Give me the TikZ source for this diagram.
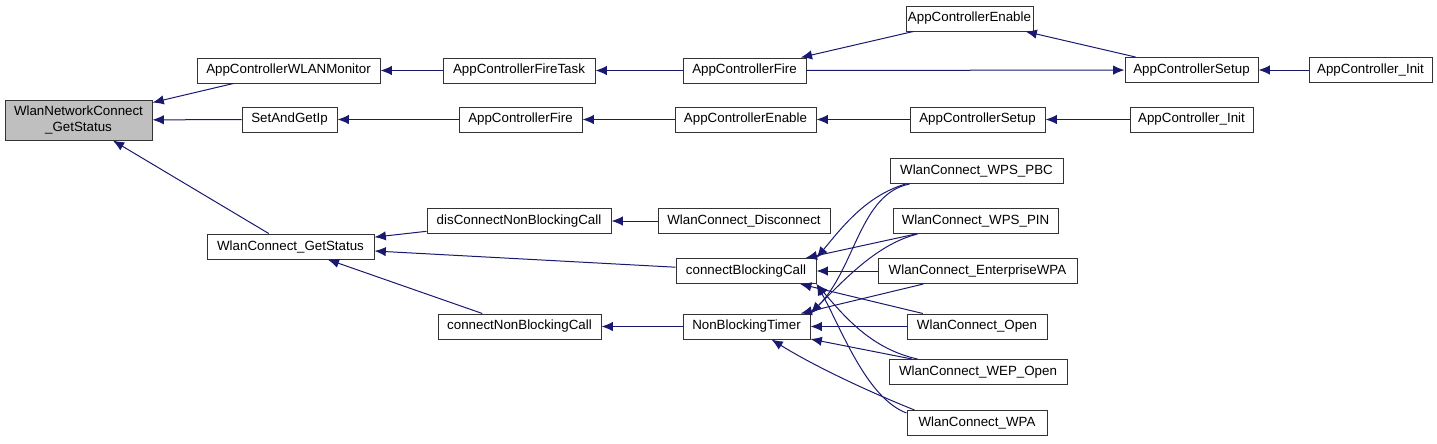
\documentclass[tikz,border=0pt]{standalone}
\usepackage{fontspec}
\setmainfont{Liberation Sans}
\usetikzlibrary{arrows.meta}
\definecolor{edgeblue}{HTML}{191970}
\definecolor{rootgray}{HTML}{BFBFBF}

\begin{document}
\begin{tikzpicture}[
  x=0.75pt, y=-0.75pt,
  font=\fontsize{10}{11.5}\selectfont,
  fnbox/.style={draw=black!80, line width=0.75pt, fill=white, align=center,
    minimum height=18.75pt, inner sep=0pt},
  rootbox/.style={fnbox, fill=rootgray, minimum height=30pt},
  flow/.style={draw=edgeblue, line width=0.75pt,
    -{Latex[length=8.5pt,width=7pt]}}
]
\useasboundingbox (0,0) rectangle (1437,443);
% callers of the root, one column per depth
\node[rootbox, minimum width=110.25pt] (root) at (78.5,120)
  {WlanNetworkConnect\\\_GetStatus};
\node[fnbox, minimum width=137.25pt] (wlanmon) at (288.5,70.5) {AppControllerWLANMonitor};
\node[fnbox, minimum width=71.25pt] (setip) at (289.5,119.5) {SetAndGetIp};
\node[fnbox, minimum width=125.25pt] (gsts) at (290.5,246.5) {WlanConnect\_GetStatus};
\node[fnbox, minimum width=114pt] (firetask) at (519,70.5) {AppControllerFireTask};
\node[fnbox, minimum width=92.25pt] (fireB) at (520.5,119.5) {AppControllerFire};
\node[fnbox, minimum width=138pt] (discon) at (519,221) {disConnectNonBlockingCall};
\node[fnbox, minimum width=122.25pt] (cnbc) at (519.5,326.5) {connectNonBlockingCall};
\node[fnbox, minimum width=92.25pt] (fireA) at (744.5,70.5) {AppControllerFire};
\node[fnbox, minimum width=105.75pt] (enableB) at (745.5,119.5) {AppControllerEnable};
\node[fnbox, minimum width=129pt] (disc) at (744,221) {WlanConnect\_Disconnect};
\node[fnbox, minimum width=105pt] (cbc) at (746,271) {connectBlockingCall};
\node[fnbox, minimum width=95.25pt] (nbt) at (746.5,326.5) {NonBlockingTimer};
\node[fnbox, minimum width=95.25pt] (enableA) at (969.5,18.5) {AppControllerEnable};
\node[fnbox, minimum width=101.25pt] (setupB) at (977.5,119.5) {AppControllerSetup};
\node[fnbox, minimum width=129.75pt] (pbc) at (976.5,171) {WlanConnect\_WPS\_PBC};
\node[fnbox, minimum width=123.75pt] (pin) at (975.5,221) {WlanConnect\_WPS\_PIN};
\node[fnbox, minimum width=149.25pt] (ewpa) at (977.5,271) {WlanConnect\_EnterpriseWPA};
\node[fnbox, minimum width=105pt] (open) at (977,326.5) {WlanConnect\_Open};
\node[fnbox, minimum width=133.5pt] (wep) at (978,372) {WlanConnect\_WEP\_Open};
\node[fnbox, minimum width=105pt] (wpa) at (977,423) {WlanConnect\_WPA};
\node[fnbox, minimum width=99.75pt] (setupA) at (1191.5,70) {AppControllerSetup};
\node[fnbox, minimum width=92.25pt] (initB) at (1191.5,119.5) {AppController\_Init};
\node[fnbox, minimum width=92.25pt] (initA) at (1370.5,70) {AppController\_Init};

\draw[flow] (wlanmon) -- (root);
\draw[flow] (setip) -- (root);
\draw[flow] (gsts) -- (root);
\draw[flow] (firetask) -- (wlanmon);
\draw[flow] (fireA) -- (firetask);
\draw[flow] (enableA) -- (fireA);
\draw[flow] (setupA) -- (enableA);
\draw[flow] (fireA) -- (setupA);
\draw[flow] (initA) -- (setupA);
\draw[flow] (fireB) -- (setip);
\draw[flow] (enableB) -- (fireB);
\draw[flow] (setupB) -- (enableB);
\draw[flow] (initB) -- (setupB);
\draw[flow] (discon) -- (gsts);
\draw[flow] (cbc) -- (gsts);
\draw[flow] (cnbc) -- (gsts);
\draw[flow] (disc) -- (discon);
\draw[flow] (nbt) -- (cnbc);
% the six entry points reach both connectBlockingCall and NonBlockingTimer
\draw[flow] ([shift={(16,0)}]pbc.south west)
  .. controls +(-40,12) and +(25,-30) .. (cbc.north east);
\draw[flow] ([shift={(20,0)}]pbc.south west)
  .. controls +(-50,10) and +(45,-45) .. (nbt.north east);
\draw[flow] (pin) -- (cbc);
\draw[flow] ([shift={(25,0)}]pin.south west)
  .. controls +(-40,10) and +(35,-35) .. (nbt.north east);
\draw[flow] (ewpa) -- (cbc);
\draw[flow] (ewpa) -- (nbt);
\draw[flow] (open) -- (cbc);
\draw[flow] (open) -- (nbt);
\draw[flow] ([shift={(29,0)}]wep.north west)
  .. controls +(-45,-10) and +(30,35) .. (cbc.south east);
\draw[flow] (wep) -- (nbt);
\draw[flow] ([shift={(0,3)}]wpa.north west)
  .. controls +(-40,-15) and +(25,45) .. (cbc.south east);
\draw[flow] ([shift={(8,0)}]wpa.north west)
  .. controls +(-50,-20) and +(40,25) .. ([shift={(25,0)}]nbt.south);
\end{tikzpicture}
\end{document}
